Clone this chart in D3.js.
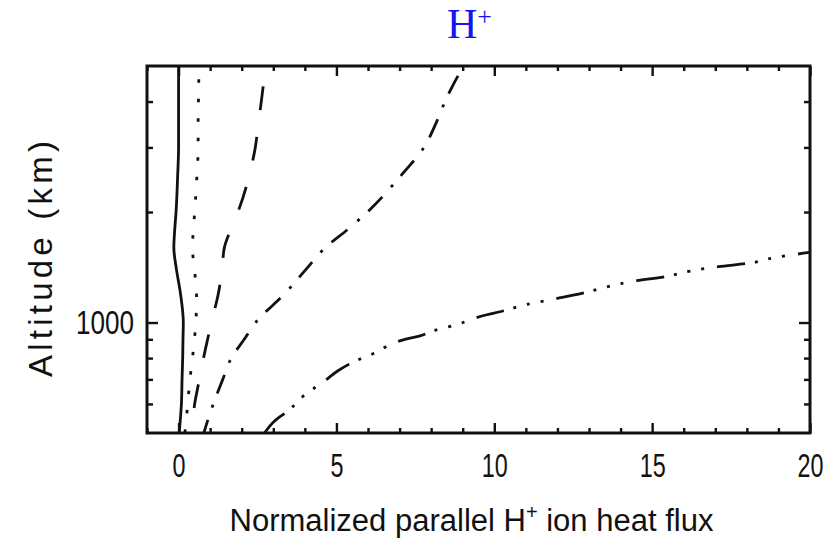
<!DOCTYPE html>
<html>
<head>
<meta charset="utf-8">
<script src="https://cdn.jsdelivr.net/npm/d3@7"></script>
<style>
  html, body { margin: 0; padding: 0; background: #fff; }
  svg { display: block; }
</style>
</head>
<body>
<svg id="chart" width="833" height="543"></svg>
<script>
// ---- data ----
const xTickMajor = [0, 5, 10, 15, 20];
const xTickMinor = [-1, 1, 2, 3, 4, 6, 7, 8, 9, 11, 12, 13, 14, 16, 17, 18, 19];
const yTickMajor = [1000];
const yTickMinor = [600, 700, 800, 900, 2000, 3000, 4000];

const solidAlt = [500, 550, 600, 700, 800, 900, 1000, 1200, 1400, 1600, 1800, 2000, 2500, 3000, 3500, 4000, 4500, 5000];
const solidVal = [0.02, 0.06, 0.09, 0.11, 0.13, 0.14, 0.15, 0.06, -0.07, -0.15, -0.12, -0.08, -0.03, 0.0, 0.0, 0.0, 0.0, 0.0];

const dottedAlt = [500, 550, 600, 700, 800, 900, 1000, 1200, 1400, 1600, 1800, 2000, 2500, 3000, 3500, 4000, 4600];
const dottedVal = [0.20, 0.25, 0.29, 0.36, 0.44, 0.50, 0.55, 0.57, 0.50, 0.44, 0.47, 0.51, 0.58, 0.62, 0.62, 0.63, 0.64];

const dashedAlt = [500, 550, 600, 700, 800, 900, 1000, 1200, 1400, 1600, 1800, 2000, 2500, 3000, 3500, 4000, 4400];
const dashedVal = [0.38, 0.45, 0.51, 0.66, 0.79, 0.92, 1.04, 1.26, 1.38, 1.45, 1.66, 1.88, 2.23, 2.43, 2.53, 2.62, 2.68];

const dashDotAlt = [500, 550, 600, 700, 800, 900, 1000, 1200, 1400, 1600, 1800, 2000, 2500, 3000, 3500, 4000, 4500, 4700];
const dashDotVal = [0.80, 0.95, 1.10, 1.40, 1.67, 2.08, 2.44, 3.37, 4.05, 4.65, 5.38, 5.98, 7.02, 7.77, 8.16, 8.44, 8.73, 8.85];

const dash3DotAlt = [500, 540, 580, 620, 660, 700, 740, 780, 830, 870, 900, 920, 950, 970, 990, 1020, 1050, 1070, 1120, 1160, 1200, 1250, 1300, 1330, 1380, 1420, 1450, 1500, 1545, 1555];
const dash3DotVal = [2.72, 3.05, 3.53, 3.85, 4.27, 4.69, 5.06, 5.53, 6.27, 6.70, 7.17, 7.65, 8.07, 8.49, 8.86, 9.28, 9.76, 10.18, 11.03, 11.92, 12.77, 13.56, 14.51, 15.35, 16.20, 17.10, 18.05, 18.84, 19.79, 20.0];

const titleMain = "H";
const titleSup = "+";
const xLabel = "Normalized parallel H";
const xLabelSup = "+";
const xLabelEnd = " ion heat flux";
const yLabel = "Altitude (km)";

// ---- layout ----
const svg = d3.select("#chart");
const pLeft = 147, pRight = 810, pTop = 66, pBottom = 433;
const x = d3.scaleLinear().domain([-1, 20]).range([pLeft, pRight]);
const y = d3.scaleLog().domain([500, 5000]).range([pBottom, pTop]);

const axisFont = "'Liberation Sans Narrow','Arial Narrow','Liberation Sans',Arial,sans-serif";

// clip
svg.append("defs").append("clipPath").attr("id", "clip")
  .append("rect").attr("x", pLeft).attr("y", pTop).attr("width", pRight - pLeft).attr("height", pBottom - pTop);

// ---- series ----
const series = [
  { alt: solidAlt, val: solidVal, dash: null, fromTop: true },
  { alt: dottedAlt, val: dottedVal, dash: "3.5,16", fromTop: true },
  { alt: dashedAlt, val: dashedVal, dash: "24,27", fromTop: true },
  { alt: dashDotAlt, val: dashDotVal, dash: "20,12,3,13", fromTop: true },
  { alt: dash3DotAlt, val: dash3DotVal, dash: "28,10,3,11,3,11,3,13", fromTop: false }
];

const line = d3.line()
  .x(d => x(d[0]))
  .y(d => y(d[1]))
  .curve(d3.curveMonotoneY);

const g = svg.append("g").attr("clip-path", "url(#clip)");
series.forEach(s => {
  let pts = s.val.map((v, i) => [v, s.alt[i]]);
  if (s.fromTop) pts = pts.slice().reverse();
  g.append("path")
    .datum(pts)
    .attr("d", line)
    .attr("fill", "none")
    .attr("stroke", "#111")
    .attr("stroke-width", 2.8)
    .attr("stroke-dasharray", s.dash);
});

// ---- axes ----
function styleAxis(sel) {
  sel.select(".domain").remove();
  sel.selectAll(".tick line").attr("stroke", "#111").attr("stroke-width", 2.4);
  sel.selectAll("text")
    .attr("font-family", axisFont)
    .attr("font-size", 33)
    .attr("fill", "#111")
    .attr("lengthAdjust", "spacingAndGlyphs")
    .attr("textLength", function () { const n = this.textContent.length; return n >= 4 ? 58 : n * 13; });
}

// bottom
svg.append("g").attr("transform", `translate(0,${pBottom})`)
  .call(d3.axisBottom(x).tickValues(xTickMajor).tickSize(-10).tickPadding(21).tickFormat(d3.format("d")))
  .call(styleAxis);
svg.append("g").attr("transform", `translate(0,${pBottom})`)
  .call(d3.axisBottom(x).tickValues(xTickMinor).tickSize(-5).tickFormat(""))
  .call(styleAxis);
// top
svg.append("g").attr("transform", `translate(0,${pTop})`)
  .call(d3.axisTop(x).tickValues(xTickMajor).tickSize(-10).tickFormat(""))
  .call(styleAxis);
svg.append("g").attr("transform", `translate(0,${pTop})`)
  .call(d3.axisTop(x).tickValues(xTickMinor).tickSize(-5).tickFormat(""))
  .call(styleAxis);
// left
svg.append("g").attr("transform", `translate(${pLeft},0)`)
  .call(d3.axisLeft(y).tickValues(yTickMajor).tickSize(-11).tickPadding(13).tickFormat(d3.format("d")))
  .call(styleAxis);
svg.append("g").attr("transform", `translate(${pLeft},0)`)
  .call(d3.axisLeft(y).tickValues(yTickMinor).tickSize(-6).tickFormat(""))
  .call(styleAxis);
// right
svg.append("g").attr("transform", `translate(${pRight},0)`)
  .call(d3.axisRight(y).tickValues(yTickMajor).tickSize(-11).tickFormat(""))
  .call(styleAxis);
svg.append("g").attr("transform", `translate(${pRight},0)`)
  .call(d3.axisRight(y).tickValues(yTickMinor).tickSize(-6).tickFormat(""))
  .call(styleAxis);

// frame
svg.append("rect")
  .attr("x", pLeft).attr("y", pTop)
  .attr("width", pRight - pLeft).attr("height", pBottom - pTop)
  .attr("fill", "none").attr("stroke", "#111").attr("stroke-width", 3);

// ---- axis titles ----
const xt = svg.append("text")
  .attr("x", (pLeft + pRight) / 2 - 7).attr("y", 531)
  .attr("text-anchor", "middle")
  .attr("font-family", axisFont).attr("font-size", 31).attr("fill", "#111");
xt.append("tspan").text(xLabel);
xt.append("tspan").attr("dy", -12).attr("font-size", 20).text(xLabelSup);
xt.append("tspan").attr("dy", 12).text(xLabelEnd);

svg.append("text")
  .attr("transform", `translate(52,259) rotate(-90)`)
  .attr("text-anchor", "middle")
  .attr("font-family", axisFont).attr("font-size", 33).attr("fill", "#111")
  .attr("textLength", 236).attr("lengthAdjust", "spacing")
  .text(yLabel);

// ---- chart title ----
const tt = svg.append("text")
  .attr("x", 447).attr("y", 38)
  .attr("text-anchor", "start")
  .attr("font-family", "'Liberation Serif','Times New Roman',serif")
  .attr("font-size", 42).attr("fill", "#1515f0");
tt.append("tspan").text(titleMain);
tt.append("tspan").attr("dy", -13).attr("font-size", 26).text(titleSup);
</script>
</body>
</html>
